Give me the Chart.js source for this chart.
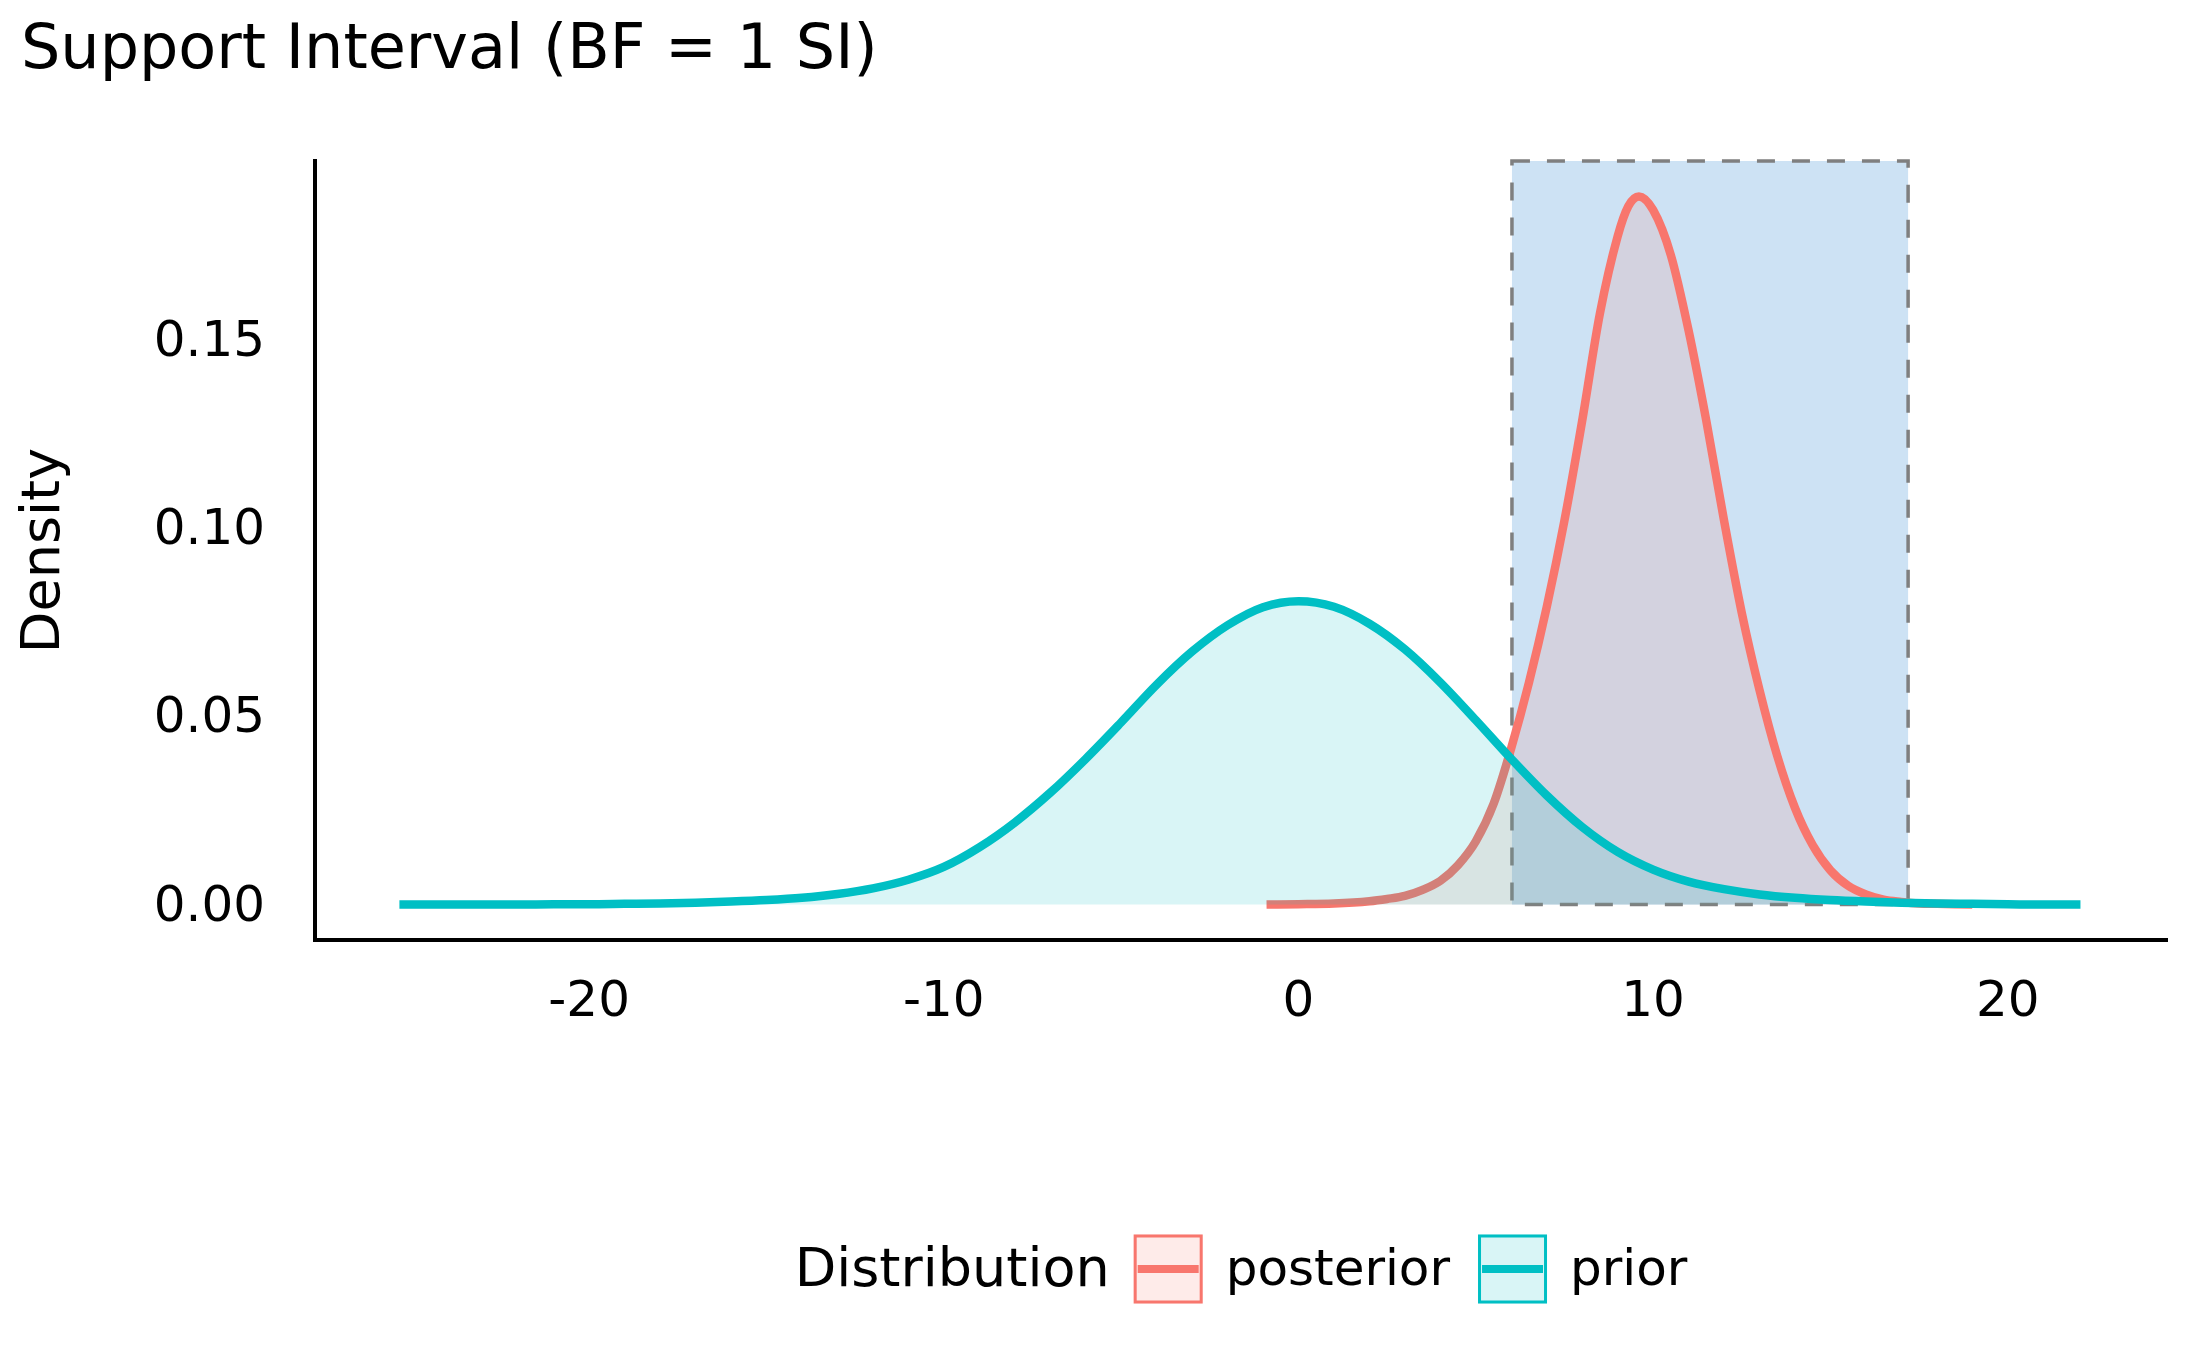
<!DOCTYPE html>
<html>
<head>
<meta charset="utf-8">
<title>Support Interval</title>
<script src="https://cdn.jsdelivr.net/npm/chart.js@4/dist/chart.umd.min.js"></script>
<style>
  html, body { margin: 0; padding: 0; background: #fff; }
  #wrap { width: 2187px; height: 1351px; position: relative; }
</style>
</head>
<body>
<div id="wrap"><canvas id="siChart"></canvas></div>
<script>
// values
const seriesNames = ['posterior', 'prior'];
const seriesColors = ['#F8766D', '#00BFC4'];

const priorX = [-25.35, -24, -23, -22, -21, -20, -19, -18, -17, -16, -15, -14, -13, -12, -11, -10,
  -9, -8, -7, -6, -5, -4, -3, -2, -1, 0, 1, 2, 3, 4, 5, 6, 7, 8, 9, 10, 11, 12, 13, 14, 15, 16,
  17, 18, 19, 20, 21, 22.05];
const priorY = [0.0000, 0.0000, 0.0000, 0.0000, 0.0001, 0.0001, 0.0002, 0.0003, 0.0005, 0.0008,
  0.0012, 0.0018, 0.0028, 0.0043, 0.0066, 0.0100, 0.0152, 0.0218, 0.0297, 0.0387, 0.0484, 0.0584,
  0.0672, 0.0742, 0.0790, 0.0806, 0.0791, 0.0746, 0.0678, 0.0590, 0.0490, 0.0387, 0.0290, 0.0206,
  0.0140, 0.0093, 0.0061, 0.0041, 0.0027, 0.0018, 0.0012, 0.0008, 0.0005, 0.0003, 0.0002, 0.0001,
  0.0000, 0.0000];

const posteriorX = [-0.9, 0, 1, 2, 2.5, 3, 3.5, 4, 4.5, 5, 5.5, 6, 6.5, 7, 7.5, 8, 8.5, 9, 9.3,
  9.6, 10, 10.5, 11, 11.5, 12, 12.5, 13, 13.5, 14, 14.5, 15, 15.5, 16, 16.5, 17, 17.5, 18, 19];
const posteriorY = [0.0000, 0.0001, 0.0003, 0.0009, 0.0015, 0.0023, 0.0039, 0.0063, 0.0105,
  0.0168, 0.0267, 0.0416, 0.0590, 0.0790, 0.1020, 0.1285, 0.1570, 0.1775, 0.1855, 0.1881, 0.1845,
  0.1725, 0.1525, 0.1285, 0.1020, 0.0775, 0.0570, 0.0395, 0.0257, 0.0158, 0.0091, 0.0050, 0.0027,
  0.0013, 0.0007, 0.0003, 0.0002, 0.0000];

// support interval bounds
const siLow = 6.02;
const siHigh = 17.19;

const xTicks = [-20, -10, 0, 10, 20];
const yTicks = [0, 0.05, 0.10, 0.15];
const xRange = [-27.73, 24.49];
const yRange = [-0.0094, 0.1975];

const FONT = '"DejaVu Sans", "Liberation Sans", sans-serif';

function toPoints(xs, ys) {
  return xs.map((x, i) => ({ x: x, y: ys[i] }));
}

function fade(hex, a) {
  const n = parseInt(hex.slice(1), 16);
  return `rgba(${(n >> 16) & 255}, ${(n >> 8) & 255}, ${n & 255}, ${a})`;
}

// shaded SI box, drawn under the densities
const siBox = {
  id: 'siBox',
  beforeDatasetsDraw(chart) {
    const { ctx, chartArea, scales } = chart;
    const x0 = scales.x.getPixelForValue(siLow);
    const x1 = scales.x.getPixelForValue(siHigh);
    const yb = scales.y.getPixelForValue(0);
    const yt = chartArea.top;
    ctx.save();
    ctx.fillStyle = '#CDE2F4';
    ctx.fillRect(x0, yt, x1 - x0, yb - yt);
    ctx.setLineDash([18, 17]);
    ctx.lineWidth = 3.5;
    ctx.strokeStyle = '#7F7F7F';
    ctx.strokeRect(x0, yt, x1 - x0, yb - yt);
    ctx.restore();
  }
};

// ggplot-style legend: title on the left, keys in one row
const sideLegend = {
  id: 'sideLegend',
  afterDraw(chart) {
    const { ctx, chartArea } = chart;
    const cy = chartArea.bottom + 329;
    const box = 69;
    const gapTitle = 24, gapKey = 23, gapItem = 28;
    ctx.save();
    ctx.textBaseline = 'middle';
    ctx.textAlign = 'left';
    ctx.font = '54px ' + FONT;
    const titleW = ctx.measureText('Distribution').width;
    ctx.font = '50px ' + FONT;
    const labelW = seriesNames.map(s => ctx.measureText(s).width);
    let total = titleW + gapTitle;
    labelW.forEach((w, i) => { total += box + gapKey + w + (i < labelW.length - 1 ? gapItem : 0); });
    let x = (chartArea.left + chartArea.right) / 2 - total / 2;

    ctx.fillStyle = '#000';
    ctx.font = '54px ' + FONT;
    ctx.fillText('Distribution', x, cy + 3);
    x += titleW + gapTitle;

    ctx.font = '50px ' + FONT;
    seriesNames.forEach((name, i) => {
      const top = cy - box / 2;
      ctx.fillStyle = fade(seriesColors[i], 0.15);
      ctx.fillRect(x, top, box, box);
      ctx.lineWidth = 3;
      ctx.strokeStyle = seriesColors[i];
      ctx.strokeRect(x + 1.5, top + 1.5, box - 3, box - 3);
      ctx.beginPath();
      ctx.lineWidth = 8;
      ctx.moveTo(x + 4, cy);
      ctx.lineTo(x + box - 4, cy);
      ctx.stroke();
      x += box + gapKey;
      ctx.fillStyle = '#000';
      ctx.fillText(name, x, cy + 3);
      x += labelW[i] + gapItem;
    });
    ctx.restore();
  }
};

const ctx = document.getElementById('siChart').getContext('2d');
new Chart(ctx, {
  type: 'line',
  data: {
    datasets: [
      {
        label: seriesNames[0],
        data: toPoints(posteriorX, posteriorY),
        borderColor: seriesColors[0],
        backgroundColor: fade(seriesColors[0], 0.15),
        borderWidth: 8.5,
        fill: 'origin',
        pointRadius: 0,
        cubicInterpolationMode: 'monotone',
        order: 2
      },
      {
        label: seriesNames[1],
        data: toPoints(priorX, priorY),
        borderColor: seriesColors[1],
        backgroundColor: fade(seriesColors[1], 0.15),
        borderWidth: 8.5,
        fill: 'origin',
        pointRadius: 0,
        cubicInterpolationMode: 'monotone',
        order: 1
      }
    ]
  },
  options: {
    responsive: true,
    maintainAspectRatio: false,
    animation: false,
    layout: { padding: { left: 21, right: 20, top: 0, bottom: 0 } },
    plugins: {
      legend: { display: false },
      tooltip: { enabled: false },
      title: {
        display: true,
        text: 'Support Interval (BF = 1 SI)',
        align: 'start',
        color: '#000',
        font: { family: FONT, size: 62, weight: 'normal', lineHeight: 1.2 },
        padding: { top: 15, bottom: 71.6 }
      }
    },
    scales: {
      x: {
        type: 'linear',
        min: xRange[0],
        max: xRange[1],
        afterBuildTicks: (scale) => { scale.ticks = xTicks.map(v => ({ value: v })); },
        afterFit: (scale) => { scale.height = 411; },
        grid: { display: false, drawTicks: false },
        border: { display: true, color: '#000', width: 4 },
        ticks: {
          color: '#000',
          padding: 33,
          font: { family: FONT, size: 50 },
          callback: (v) => String(v)
        }
      },
      y: {
        type: 'linear',
        min: yRange[0],
        max: yRange[1],
        afterBuildTicks: (scale) => { scale.ticks = yTicks.map(v => ({ value: v })); },
        afterFit: (scale) => { scale.width = 294; },
        grid: { display: false, drawTicks: false },
        border: { display: true, color: '#000', width: 4 },
        ticks: {
          color: '#000',
          padding: 50,
          labelOffset: 3,
          font: { family: FONT, size: 50 },
          callback: (v) => Number(v).toFixed(2)
        },
        title: {
          display: true,
          text: 'Density',
          color: '#000',
          font: { family: FONT, size: 54, lineHeight: 1 },
          padding: { top: -3, bottom: 0 }
        }
      }
    }
  },
  plugins: [siBox, sideLegend]
});
</script>
</body>
</html>
